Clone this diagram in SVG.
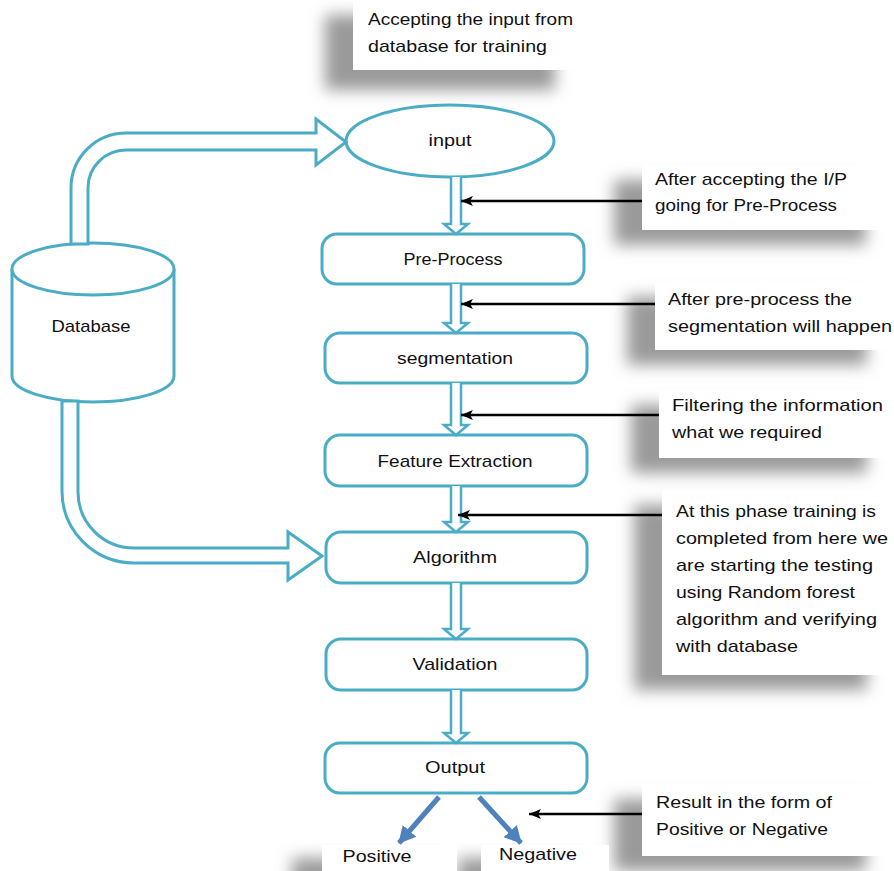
<svg xmlns="http://www.w3.org/2000/svg" width="894" height="871" viewBox="0 0 894 871">
<style>
.n{fill:#fff;stroke:#4BACC6;stroke-width:3}
.a{fill:#fff;stroke:#4BACC6;stroke-width:2.5}
.big{fill:#fff;stroke:#4BACC6;stroke-width:3;stroke-linejoin:miter}
text{font-family:"Liberation Sans",Arial,sans-serif;fill:#111}
.t{font-size:17px;text-anchor:middle}
.c{font-size:17px}
.sh{fill:#9a9a9a;filter:url(#blur)}
.bk{stroke:#000;stroke-width:2.5;fill:none;marker-end:url(#bh)}
.bl{stroke:#4F81BD;stroke-width:5;fill:none;marker-end:url(#blh)}
</style>
<defs>
<filter id="blur" x="-30%" y="-50%" width="160%" height="200%"><feGaussianBlur stdDeviation="8"/></filter>
<marker id="bh" markerUnits="userSpaceOnUse" markerWidth="14" markerHeight="12" refX="12" refY="6" orient="auto"><path d="M0,1 L12,6 L0,11 L3,6 Z" fill="#000"/></marker>
<marker id="blh" markerUnits="userSpaceOnUse" markerWidth="20" markerHeight="20" refX="16" refY="10" orient="auto"><path d="M0,1 L17,10 L0,19 Z" fill="#4F81BD"/></marker>
</defs>
<rect width="894" height="871" fill="#fff"/>

<g id="callouts">
<g id="note1">
<rect class="sh" x="325" y="15" width="230" height="75"/>
<rect x="353" y="0" width="230" height="70" fill="#fff"/>
<text class="c" x="368" y="25" textLength="205" lengthAdjust="spacingAndGlyphs">Accepting the input from</text>
<text class="c" x="368" y="52" textLength="179" lengthAdjust="spacingAndGlyphs">database for training</text>
</g>
<g id="note2">
<rect class="sh" x="614" y="180" width="252" height="65"/>
<rect x="642" y="165" width="252" height="65" fill="#fff"/>
<text class="c" x="655" y="185" textLength="192" lengthAdjust="spacingAndGlyphs">After accepting the I/P</text>
<text class="c" x="655" y="211" textLength="182" lengthAdjust="spacingAndGlyphs">going for Pre-Process</text>
</g>
<g id="note3">
<rect class="sh" x="627" y="297" width="240" height="68"/>
<rect x="655" y="282" width="239" height="68" fill="#fff"/>
<text class="c" x="668" y="305" textLength="184" lengthAdjust="spacingAndGlyphs">After pre-process the</text>
<text class="c" x="668" y="332" textLength="224" lengthAdjust="spacingAndGlyphs">segmentation will happen</text>
</g>
<g id="note4">
<rect class="sh" x="631" y="405" width="236" height="68"/>
<rect x="659" y="390" width="235" height="68" fill="#fff"/>
<text class="c" x="672" y="411" textLength="211" lengthAdjust="spacingAndGlyphs">Filtering the information</text>
<text class="c" x="672" y="438" textLength="150" lengthAdjust="spacingAndGlyphs">what we required</text>
</g>
<g id="note5">
<rect class="sh" x="634" y="505" width="233" height="185"/>
<rect x="662" y="490" width="232" height="185" fill="#fff"/>
<text class="c" x="676" y="517" textLength="200" lengthAdjust="spacingAndGlyphs">At this phase training is</text>
<text class="c" x="676" y="544" textLength="212" lengthAdjust="spacingAndGlyphs">completed from here we</text>
<text class="c" x="676" y="571" textLength="197" lengthAdjust="spacingAndGlyphs">are starting the testing</text>
<text class="c" x="676" y="598" textLength="179" lengthAdjust="spacingAndGlyphs">using Random forest</text>
<text class="c" x="676" y="625" textLength="201" lengthAdjust="spacingAndGlyphs">algorithm and verifying</text>
<text class="c" x="676" y="652" textLength="122" lengthAdjust="spacingAndGlyphs">with database</text>
</g>
<g id="note6">
<rect class="sh" x="614" y="799" width="252" height="72"/>
<rect x="642" y="784" width="252" height="72" fill="#fff"/>
<text class="c" x="656" y="808" textLength="176" lengthAdjust="spacingAndGlyphs">Result in the form of</text>
<text class="c" x="656" y="835" textLength="172" lengthAdjust="spacingAndGlyphs">Positive or Negative</text>
</g>
</g>

<g id="database">
<path class="n" d="M12,269 V376 A81,26 0 0 0 174,376 V269"/>
<ellipse class="n" cx="93" cy="269" rx="81" ry="26"/>
<text class="t" x="91" y="332" textLength="79" lengthAdjust="spacingAndGlyphs">Database</text>
</g>

<g id="input">
<ellipse class="n" cx="450" cy="141" rx="104" ry="36"/>
<text class="t" x="450" y="146" textLength="43" lengthAdjust="spacingAndGlyphs">input</text>
</g>
<g id="preprocess">
<rect class="n" x="322" y="234" width="262" height="50" rx="15"/>
<text class="t" x="453" y="265" textLength="99" lengthAdjust="spacingAndGlyphs">Pre-Process</text>
</g>
<g id="segmentation">
<rect class="n" x="325" y="333" width="262" height="50" rx="15"/>
<text class="t" x="455" y="364" textLength="116" lengthAdjust="spacingAndGlyphs">segmentation</text>
</g>
<g id="feature">
<rect class="n" x="325" y="435" width="262" height="51" rx="15"/>
<text class="t" x="455" y="467" textLength="155" lengthAdjust="spacingAndGlyphs">Feature Extraction</text>
</g>
<g id="algorithm">
<rect class="n" x="326" y="532" width="261" height="51" rx="15"/>
<text class="t" x="455" y="563" textLength="84" lengthAdjust="spacingAndGlyphs">Algorithm</text>
</g>
<g id="validation">
<rect class="n" x="326" y="639" width="261" height="51" rx="15"/>
<text class="t" x="455" y="670" textLength="85" lengthAdjust="spacingAndGlyphs">Validation</text>
</g>
<g id="output">
<rect class="n" x="325" y="743" width="262" height="50" rx="15"/>
<text class="t" x="455" y="773" textLength="60" lengthAdjust="spacingAndGlyphs">Output</text>
</g>

<g id="results">
<rect class="sh" x="292" y="858" width="150" height="30"/>
<rect class="sh" x="458" y="858" width="130" height="30"/>
<rect x="322" y="845" width="135" height="26" fill="#fff"/>
<rect x="481" y="845" width="128" height="26" fill="#fff"/>
<g id="positive"><text class="t" x="377" y="862" textLength="69" lengthAdjust="spacingAndGlyphs">Positive</text></g>
<g id="negative"><text class="t" x="538" y="860" textLength="78" lengthAdjust="spacingAndGlyphs">Negative</text></g>
</g>

<g id="connectors">
<path class="big" d="M71,244 V188 A55,55 0 0 1 126,133 H316 V119 L346,142 L316,165 V150 H126 A38,38 0 0 0 88,188 V244 Z"/>
<path class="big" d="M62,401 V491 A72,72 0 0 0 134,563 H288 V580 L322,556 L288,532 V548 H134 A56,56 0 0 1 78,492 V401 Z"/>
<path class="a" d="M451,177 V224 H444 L456,234 L468,224 H461 V177"/>
<path class="a" d="M451,284 V323 H444 L456,333 L468,323 H461 V284"/>
<path class="a" d="M451,383 V425 H444 L456,435 L468,425 H461 V383"/>
<path class="a" d="M451,486 V522 H444 L456,532 L468,522 H461 V486"/>
<path class="a" d="M451,583 V629 H444 L456,639 L468,629 H461 V583"/>
<path class="a" d="M451,690 V733 H444 L456,743 L468,733 H461 V690"/>
<line class="bk" x1="642" y1="201" x2="461" y2="201"/>
<line class="bk" x1="655" y1="304" x2="461" y2="304"/>
<line class="bk" x1="659" y1="415" x2="461" y2="415"/>
<line class="bk" x1="662" y1="515" x2="458" y2="515"/>
<line class="bk" x1="642" y1="814" x2="529" y2="814"/>
<line class="bl" x1="439" y1="797" x2="399" y2="843"/>
<line class="bl" x1="479" y1="797" x2="521" y2="843"/>
</g>
</svg>
